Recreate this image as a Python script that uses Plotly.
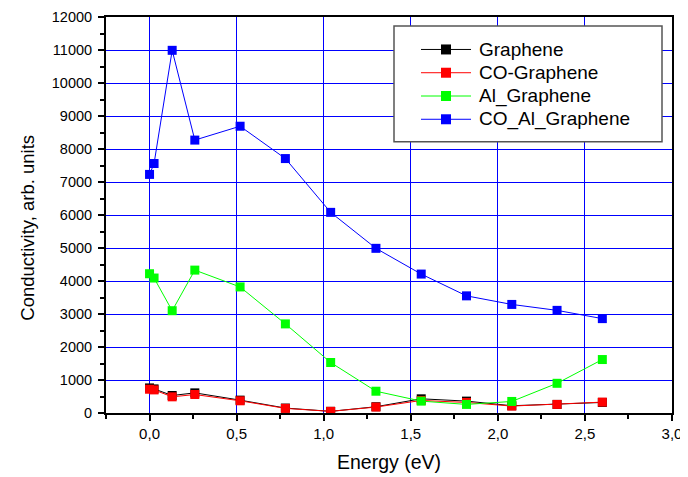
import plotly.graph_objects as go

energy = [0.0, 0.026, 0.13, 0.26, 0.52, 0.78, 1.04, 1.30, 1.56, 1.82, 2.08, 2.34, 2.60]
graphene = [760, 730, 530, 610, 390, 150, 50, 190, 430, 360, 220, 260, 320]
co_graphene = [720, 700, 490, 560, 370, 140, 50, 180, 380, 320, 210, 260, 330]
al_graphene = [4220, 4090, 3100, 4330, 3820, 2700, 1530, 660, 360, 260, 350, 900, 1620]
co_al_graphene = [7230, 7560, 10990, 8270, 8690, 7710, 6080, 4990, 4210, 3550, 3290, 3110, 2860]

series_names = ["Graphene", "CO-Graphene", "Al_Graphene", "CO_Al_Graphene"]
series_values = [graphene, co_graphene, al_graphene, co_al_graphene]
series_colors = ["#000000", "#ff0000", "#00ff00", "#0000ff"]

x_ticks = [0.0, 0.5, 1.0, 1.5, 2.0, 2.5, 3.0]
y_ticks = list(range(0, 12001, 1000))

FONT = "Liberation Sans, Arial, sans-serif"

fig = go.Figure()
for name, vals, col in zip(series_names, series_values, series_colors):
    fig.add_trace(go.Scatter(
        x=energy, y=vals, name=name, mode="lines+markers",
        line=dict(color=col, width=1),
        marker=dict(symbol="square", size=9, color=col),
        showlegend=False,
    ))

# page offset (body margin) compensation
OFF = 8
W, H = 688, 477
PL, PR, PT, PB = 106, 672, 17, 413.5  # plot area in window pixels
L = PL - OFF
T = PT - OFF
R = W - (PR - OFF)
B = H - (PB - OFF)
pw, ph = PR - PL, PB - PT

def px_x(p):
    return (p - PL) / pw

def px_y(p):
    return (PB - p) / ph

# legend box
shapes = [dict(type="rect", xref="paper", yref="paper",
               x0=px_x(394), x1=px_x(662), y0=px_y(142), y1=px_y(26),
               line=dict(color="#555555", width=1.5), fillcolor="white", layer="above")]
annotations = []
entry_y = [49.5, 72.8, 96.1, 119.4]
for name, col, ey in zip(series_names, series_colors, entry_y):
    shapes.append(dict(type="line", xref="paper", yref="paper",
                       x0=px_x(421), x1=px_x(471), y0=px_y(ey), y1=px_y(ey),
                       line=dict(color=col, width=1), layer="above"))
    shapes.append(dict(type="rect", xref="paper", yref="paper",
                       xsizemode="pixel", ysizemode="pixel",
                       xanchor=px_x(446), yanchor=px_y(ey),
                       x0=-5, x1=5, y0=-5, y1=5,
                       line=dict(width=0), fillcolor=col, layer="above"))
    annotations.append(dict(text=name, xref="paper", yref="paper",
                            x=px_x(477), y=px_y(ey), xanchor="left", yanchor="middle",
                            showarrow=False, font=dict(family=FONT, size=19, color="black")))

# y-axis title
annotations.append(dict(text="Conductivity, arb. units", xref="paper", yref="paper",
                        x=px_x(28), y=px_y(228), xanchor="center", yanchor="middle",
                        textangle=-90, showarrow=False,
                        font=dict(family=FONT, size=18.5, color="black")))

fig.update_layout(
    width=W, height=H,
    margin=dict(l=L, r=R, t=T, b=B, autoexpand=False),
    paper_bgcolor="white", plot_bgcolor="white",
    separators=",.",
    font=dict(family=FONT, size=15, color="black"),
    showlegend=False,
    shapes=shapes,
    annotations=annotations,
    xaxis=dict(
        range=[-0.25, 3.0], tickmode="array", tickvals=x_ticks, tickformat=".1f",
        ticks="outside", ticklen=6, tickwidth=1.5, tickcolor="black",
        showline=True, linecolor="black", linewidth=2, mirror=True,
        showgrid=True, gridcolor="#0000ff", gridwidth=1, zeroline=False,
        ticklabeloverflow="allow",
        minor=dict(tickvals=[-0.25, 0.25, 0.75, 1.25, 1.75, 2.25, 2.75],
                   ticks="outside", ticklen=4, tickwidth=1.5, tickcolor="black", showgrid=False),
        title=dict(text="Energy (eV)", font=dict(family=FONT, size=19.5), standoff=14),
    ),
    yaxis=dict(
        range=[0, 12000], tickmode="array", tickvals=y_ticks, tickformat="d",
        ticks="outside", ticklen=6, tickwidth=1.5, tickcolor="black",
        showline=True, linecolor="black", linewidth=2, mirror=True,
        showgrid=True, gridcolor="#0000ff", gridwidth=1, zeroline=False,
        ticklabeloverflow="allow", ticklabelstandoff=3,
        tickfont=dict(family=FONT, size=14.5),
        minor=dict(tickvals=list(range(500, 12000, 1000)),
                   ticks="outside", ticklen=4, tickwidth=1.5, tickcolor="black", showgrid=False),
    ),
)

fig.write_html("out.html")
